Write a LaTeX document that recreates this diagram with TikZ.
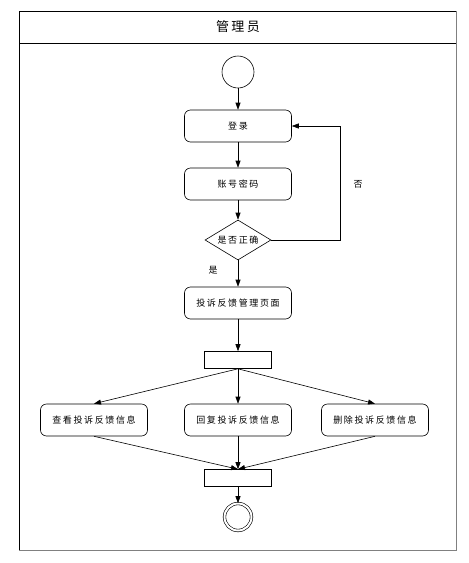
\documentclass[tikz,border=0pt]{standalone}
\usepackage{fontspec}
\setmainfont[LetterSpace=18]{Noto Sans CJK SC}
\usepackage{tikz}
\usetikzlibrary{shapes.geometric,arrows.meta}

\tikzset{
    act/.style={draw,rounded corners=6pt,minimum width=107pt,minimum height=32pt,inner sep=0pt,font=\fontsize{9}{11}\selectfont},
    bar/.style={draw,minimum width=67pt,minimum height=17pt,inner sep=0pt},
    flow/.style={-{Triangle[length=7pt,width=5pt]}}
}

\begin{document}
\begin{tikzpicture}[x=1pt,y=-1pt,line width=0.6pt]
    \useasboundingbox (0,0) rectangle (469,563);
    % swimlane
    \draw (19,550) -- (19,11) -- (456,11);
    \draw[gray,line width=1pt] (456,11) -- (456,550) -- (19,550);
    \draw (19,43) -- (456,43);
    \node (lane) at (238,27) {\fontsize{13}{15}\selectfont 管理员};
    % nodes
    \node[draw,circle,minimum size=32pt,inner sep=0pt] (start) at (238,72) {};
    \node[act] (login) at (238,126) {登录};
    \node[act] (pwd) at (238,184) {账号密码};
    \node[draw,diamond,aspect=1.65,minimum width=66pt,minimum height=40pt,inner sep=0pt,font=\fontsize{9}{11}\selectfont] (check) at (238,240) {是否正确};
    \node[act] (page) at (238,303) {投诉反馈管理页面};
    \node[bar] (fork) at (238,360) {};
    \node[act] (view) at (94,420) {查看投诉反馈信息};
    \node[act] (reply) at (238,420) {回复投诉反馈信息};
    \node[act] (del) at (375,420) {删除投诉反馈信息};
    \node[bar] (join) at (238,478) {};
    \node[draw,circle,double,double distance=2pt,minimum size=27pt,inner sep=0pt] (end) at (238,517) {};
    \coordinate (back) at (340,126);
    \node[font=\fontsize{9}{11}\selectfont] (no) at (358,184) {否};
    \node[font=\fontsize{9}{11}\selectfont] (yes) at (213,270) {是};
    % edges
    \draw[flow] (start) to (login);
    \draw[flow] (login) to (pwd);
    \draw[flow] (pwd) to (check);
    \draw[flow] (check.east) -| (back) -- (login.east);
    \draw[flow] (check) to (page);
    \draw[flow] (page) to (fork);
    \draw[flow] (fork.south) to (view.north);
    \draw[flow] (fork.south) to (reply.north);
    \draw[flow] (fork.south) to (del.north);
    \draw[flow] (view.south) to (join.north);
    \draw[flow] (reply.south) to (join.north);
    \draw[flow] (del.south) to (join.north);
    \draw[flow] (join) to (end);
\end{tikzpicture}
\end{document}
